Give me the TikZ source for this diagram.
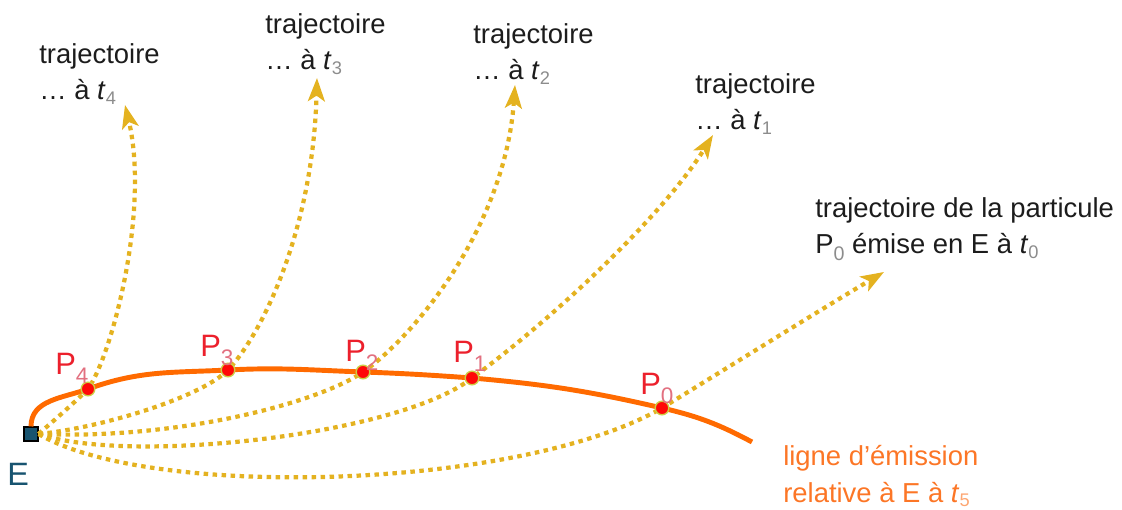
\documentclass[tikz,border=0pt]{standalone}
\usepackage{fontspec}
\setmainfont{Liberation Sans}
\usepackage{tikz}
\usetikzlibrary{arrows.meta}
\usepackage{xcolor}
\definecolor{trajgold}{RGB}{228,178,32}
\definecolor{emitorange}{RGB}{255,106,0}
\definecolor{labelorange}{RGB}{252,118,38}
\definecolor{pointred}{RGB}{255,8,8}
\definecolor{pointrim}{RGB}{205,205,70}
\definecolor{plabred}{RGB}{236,32,44}
\definecolor{psubpink}{RGB}{226,112,128}
\definecolor{tsubgray}{RGB}{140,140,140}
\definecolor{sourceteal}{RGB}{24,84,112}
\definecolor{textblack}{RGB}{28,28,28}

\newcommand{\tsub}[2][tsubgray]{\textit{t}\raisebox{-3.5pt}{\fontsize{13}{13}\selectfont\color{#1}#2}}
\newcommand{\psub}[2][tsubgray]{P\raisebox{-5pt}{\fontsize{14}{14}\selectfont\color{#1}#2}}
\newcommand{\pmark}[1]{P\raisebox{-6pt}{\fontsize{16}{16}\selectfont\color{psubpink}#1}}

\begin{document}
\begin{tikzpicture}[
  x=0.025cm,y=0.025cm,
  every node/.style={font=\fontsize{19.5}{26}\selectfont,text=textblack,inner sep=0pt},
  traj/.style={draw=trajgold,line width=3pt,dash pattern=on 3.2pt off 3.2pt,
    -{Stealth[length=0.58cm,width=0.42cm,inset=0.14cm]}},
  emit/.style={draw=emitorange,line width=3.5pt},
  particle/.style={circle,fill=pointred,draw=pointrim,line width=1pt,minimum size=0.34cm},
  plabel/.style={anchor=base west,font=\fontsize{22}{24}\selectfont,text=plabred},
  tlabel/.style={anchor=north west,align=left},
]
\useasboundingbox (0,0) rectangle (1122,510);

% emitter and particle positions
\node[draw=black,fill=sourceteal,minimum size=0.35cm,line width=0.8pt] (E) at (31,76) {};
\coordinate (p4) at (88,121);
\coordinate (p3) at (228,140);
\coordinate (p2) at (363,138);
\coordinate (p1) at (472,132);
\coordinate (p0) at (662,102);
\coordinate (emitend) at (752,68);
\coordinate (t4) at (125,405);
\coordinate (t3) at (317,432);
\coordinate (t2) at (515,425);
\coordinate (t1) at (713,375);
\coordinate (t0) at (884,238);

% emission line
\draw[emit] (E.north) to[out=90,in=200] (p4) to[out=20,in=183] (p3)
  to[out=3,in=178] (p2) to[out=-2,in=176] (p1) to[out=-5,in=167] (p0)
  to[out=-13,in=152] (emitend);

% trajectories
\draw[traj] (E.east) .. controls (52,88) and (70,103) .. (p4) .. controls (112,155) and (150,300) .. (t4);
\draw[traj] (E.east) .. controls (100,82) and (200,112) .. (p3) .. controls (262,176) and (313,280) .. (t3);
\draw[traj] (E.east) .. controls (180,70) and (320,108) .. (p2) .. controls (410,170) and (505,280) .. (t2);
\draw[traj] (E.east) .. controls (130,45) and (400,75) .. (p1) .. controls (545,185) and (660,290) .. (t1);
\draw[traj] (E.east) .. controls (150,10) and (520,20) .. (p0) .. controls (740,150) and (820,200) .. (t0);

\foreach \k in {0,...,4}
  \node[particle] (P\k) at (p\k) {};

% labels
\node[anchor=base west,font=\fontsize{23}{24}\selectfont,text=sourceteal] (Elab) at (7,24) {E};
\node[plabel] (P4lab) at (55,135) {\pmark{4}};
\node[plabel] (P3lab) at (200,153) {\pmark{3}};
\node[plabel] (P2lab) at (345,148) {\pmark{2}};
\node[plabel] (P1lab) at (453,147) {\pmark{1}};
\node[plabel] (P0lab) at (640,115) {\pmark{0}};

\node[tlabel] (t4lab) at (39,467) {trajectoire\\\ldots{} à \tsub{4}};
\node[tlabel] (t3lab) at (265,497) {trajectoire\\\ldots{} à \tsub{3}};
\node[tlabel] (t2lab) at (473,487) {trajectoire\\\ldots{} à \tsub{2}};
\node[tlabel] (t1lab) at (695,437) {trajectoire\\\ldots{} à \tsub{1}};
\node[tlabel] (t0lab) at (815,313) {trajectoire de la particule\\\psub{0} émise en E à \tsub{0}};
\node[tlabel,text=labelorange] (emitlab) at (783,65)
  {ligne d’émission\\relative à E à \tsub[labelorange!65]{5}};
\end{tikzpicture}
\end{document}
